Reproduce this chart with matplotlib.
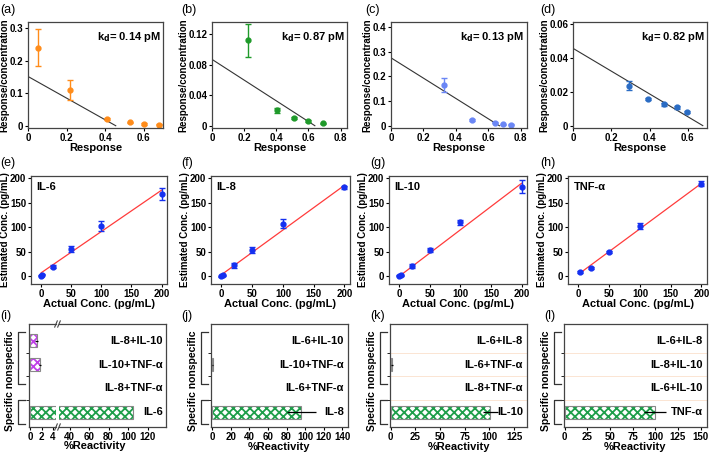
import numpy as np
import matplotlib.pyplot as plt
from matplotlib.ticker import FuncFormatter

plt.rcParams['font.family'] = ['Liberation Sans', 'DejaVu Sans']
plt.rcParams['font.weight'] = 'bold'
plt.rcParams['axes.labelweight'] = 'bold'
plt.rcParams['hatch.linewidth'] = 1.3
plt.rcParams['axes.linewidth'] = 0.9
plt.rcParams['axes.edgecolor'] = '#444444'

# ---------- row 1: Scatchard plots ----------
resp_a = [0.05, 0.22, 0.41, 0.53, 0.60, 0.68]
ratio_a = [0.240, 0.110, 0.020, 0.010, 0.005, 0.003]
err_a = [0.057, 0.030, 0.003, 0.003, 0.002, 0.002]
fit_a = (0.152, 0.455)   # y-intercept, x-intercept

resp_b = [0.225, 0.405, 0.51, 0.60, 0.69]
ratio_b = [0.112, 0.020, 0.010, 0.006, 0.003]
err_b = [0.022, 0.003, 0.001, 0.001, 0.001]
fit_b = (0.087, 0.64)

resp_c = [0.326, 0.50, 0.64, 0.69, 0.74]
ratio_c = [0.165, 0.025, 0.012, 0.007, 0.004]
err_c = [0.028, 0.004, 0.002, 0.002, 0.002]
fit_c = (0.275, 0.67)

resp_d = [0.292, 0.39, 0.475, 0.543, 0.597]
ratio_d = [0.0235, 0.0157, 0.0125, 0.0108, 0.0080]
err_d = [0.0025, 0.0008, 0.0008, 0.0008, 0.0008]
fit_d = (0.0455, 0.678)

kd_labels = ['0.14', '0.87', '0.13', '0.82']

# ---------- row 2: recovery ----------
actual = [0, 2, 20, 50, 100, 200]
est_il6 = [1, 3, 19, 56, 103, 168]
err_il6 = [1, 1, 3, 6, 10, 13]
fit_il6 = (7, 0.845)   # intercept, slope

est_il8 = [0, 2, 22, 53, 107, 182]
err_il8 = [1, 1, 5, 6, 9, 3]
fit_il8 = (3, 0.915)

est_il10 = [0.5, 2, 20, 53, 110, 183]
err_il10 = [1, 1, 4, 4, 5, 13]
fit_il10 = (0, 0.95)

actual_tnf = [2, 20, 50, 100, 200]
est_tnf = [8, 17, 50, 102, 189]
err_tnf = [2, 2, 2, 6, 5]
fit_tnf = (4, 0.93)

# ---------- row 3: cross reactivity ----------
cats_i = ['IL-6', 'IL-8+TNF-α', 'IL-10+TNF-α', 'IL-8+IL-10']
react_i = [105, 0, 1.75, 1.1]
rerr_i = [0, 0, 0.2, 0.3]

cats_j = ['IL-8', 'IL-6+TNF-α', 'IL-10+TNF-α', 'IL-6+IL-10']
react_j = [96, 0, 0.4, 0]
rerr_j = [15.5, 0, 0.5, 0]

cats_k = ['IL-10', 'IL-8+TNF-α', 'IL-6+TNF-α', 'IL-6+IL-8']
react_k = [101, 0, 1.5, 0]
rerr_k = [8, 0, 1.0, 0]

cats_l = ['TNF-α', 'IL-6+IL-10', 'IL-8+IL-10', 'IL-6+IL-8']
react_l = [100, 0, 0, 0]
rerr_l = [12, 0, 0, 0]

W, H = 709, 453
fig = plt.figure(figsize=(W / 100, H / 100), dpi=100)


def box(l, t, r, b):
    return fig.add_axes([l / W, 1 - b / H, (r - l) / W, (b - t) / H])


fmt = FuncFormatter(lambda v, p: f'{v:g}')


def style(ax):
    ax.tick_params(labelsize=7, length=2.5, width=0.8, pad=1)
    for lab in ax.get_xticklabels() + ax.get_yticklabels():
        lab.set_fontweight('bold')


# row 1
row1 = [
    (28, 163, resp_a, ratio_a, err_a, fit_a, '#ff8c1a', (0, 0.7), (-0.007, 0.32), [0, 0.1, 0.2, 0.3], [0, 0.2, 0.4, 0.6]),
    (212, 347, resp_b, ratio_b, err_b, fit_b, '#1f9a2a', (0, 0.84), (-0.003, 0.136), [0, 0.04, 0.08, 0.12], [0, 0.2, 0.4, 0.6, 0.8]),
    (391, 527, resp_c, ratio_c, err_c, fit_c, '#6a86f5', (0, 0.84), (-0.009, 0.42), [0, 0.1, 0.2, 0.3, 0.4], [0, 0.2, 0.4, 0.6, 0.8]),
    (573, 707, resp_d, ratio_d, err_d, fit_d, '#2a6cc4', (0, 0.7), (-0.0014, 0.061), [0, 0.02, 0.04, 0.06], [0, 0.2, 0.4, 0.6]),
]
for k, (l, r, xs, ys, es, fit, col, xl, yl, yt, xt) in enumerate(row1):
    ax = box(l, 22, r, 128)
    ax.plot([0, fit[1]], [fit[0], 0], color='#333333', lw=0.8)
    ax.errorbar(xs, ys, yerr=es, fmt='o', color=col, ms=3.5, capsize=2.5, elinewidth=1, capthick=1)
    ax.set_xlim(*xl)
    ax.set_ylim(*yl)
    ax.set_xticks(xt)
    ax.set_yticks(yt)
    ax.xaxis.set_major_formatter(fmt)
    ax.yaxis.set_major_formatter(fmt)
    style(ax)
    ax.set_xlabel('Response', fontsize=8, labelpad=0)
    ax.set_ylabel('Response/concentration', fontsize=7, labelpad=0)
    ax.text(0.98, 0.86, r'k$_\mathbf{d}$= ' + kd_labels[k] + ' pM', transform=ax.transAxes,
            ha='right', va='center', fontsize=8, fontweight='bold')

# row 2
row2 = [
    (31, 167, actual, est_il6, err_il6, fit_il6, 'IL-6'),
    (211, 350, actual, est_il8, err_il8, fit_il8, 'IL-8'),
    (389, 527, actual, est_il10, err_il10, fit_il10, 'IL-10'),
    (568, 707, actual_tnf, est_tnf, err_tnf, fit_tnf, 'TNF-α'),
]
for l, r, xs, ys, es, fit, name in row2:
    ax = box(l, 176, r, 284)
    x0 = min(xs)
    ax.plot([x0, 200], [fit[0] + fit[1] * x0, fit[0] + fit[1] * 200], color='#ff3b3b', lw=0.9)
    ax.errorbar(xs, ys, yerr=es, fmt='o', color='#1530f0', ms=3.5, capsize=2.5, elinewidth=1, capthick=1)
    ax.set_xlim(-17, 209)
    ax.set_ylim(-16, 205)
    ax.set_xticks([0, 50, 100, 150, 200])
    ax.set_yticks([0, 50, 100, 150, 200])
    style(ax)
    ax.set_xlabel('Actual Conc. (pg/mL)', fontsize=8, labelpad=0)
    ax.set_ylabel('Estimated Conc. (pg/mL)', fontsize=7, labelpad=0)
    ax.text(0.04, 0.9, name, transform=ax.transAxes, ha='left', va='center', fontsize=8, fontweight='bold')

# row 3
green = '#1e9e4a'
purple = '#c040e8'
bh = 0.55
ylims = (-0.62, 3.7)
top3, bot3 = 324, 427


def bars(ax, vals, errs, show_err=True):
    y = np.arange(len(vals))
    cols = [green] + [purple] * (len(vals) - 1)
    for yi, v, c in zip(y, vals, cols):
        if v <= 0:
            continue
        ax.barh(yi, v, height=bh, color='white', edgecolor=c, hatch='xxxx', lw=0, zorder=2)
        ax.barh(yi, v, height=bh, fill=False, edgecolor='#888888', lw=0.8, zorder=3)
    if show_err:
        for yi, v, e in zip(y, vals, errs):
            if e > 0:
                ax.errorbar(v, yi, xerr=e, fmt='none', ecolor='black', elinewidth=0.9, capsize=0, zorder=4)
    ax.set_ylim(*ylims)
    ax.set_yticks([])
    ax.set_yticks([0.5, 1.5, 2.5], minor=True)
    ax.tick_params(axis='y', which='minor', length=2, width=0.6)


def brackets(ax, width_px, gap=0):
    tr = ax.get_yaxis_transform()
    xa = (-10 - gap) / width_px
    xb = (-3 - gap) / width_px
    for y0, y1 in [(1.2, 3.35), (-0.5, 0.5)]:
        ax.plot([xb, xa, xa, xb], [y1, y1, y0, y0], color='#333333', lw=0.9, transform=tr, clip_on=False)
    ax.set_ylabel('Specific nonspecific', fontsize=7.5)
    ax.yaxis.set_label_coords((-13 - gap) / width_px, 0.45)


def cat_labels(ax, cats):
    for yi, c in enumerate(cats):
        ax.text(0.97, yi, c, transform=ax.get_yaxis_transform(), ha='right', va='center',
                fontsize=8, fontweight='bold', zorder=5)


# (i) with a broken axis
axL = box(29, top3, 56, bot3)
axR = box(59, top3, 166, bot3)
bars(axL, react_i, rerr_i)
bars(axR, react_i, rerr_i, show_err=False)
axL.set_xlim(-0.25, 4.6)
axR.set_xlim(29, 139)
axL.set_xticks([0, 2, 4])
axR.set_xticks([40, 60, 80, 100, 120])
axL.spines['right'].set_visible(False)
axR.spines['left'].set_visible(False)
axR.tick_params(axis='y', which='both', left=False)
style(axL)
style(axR)
brackets(axL, 27, gap=1)
cat_labels(axR, cats_i)
fig.text(95 / W, 1 - 446 / H, '%Reactivity', ha='center', va='center', fontsize=8, fontweight='bold')
for yy in (0, 1):
    for dx in (-3, 0):
        axR.plot([dx / 107 - 0.012, dx / 107 + 0.012], [yy - 0.03, yy + 0.03], color='#444444', lw=0.8,
                 transform=axR.transAxes, clip_on=False)

row3 = [
    (211, 348, react_j, rerr_j, cats_j, (-1.3, 146), [0, 20, 40, 60, 80, 100, 120, 140], False),
    (390, 527, react_k, rerr_k, cats_k, (-0.7, 138), [0, 25, 50, 75, 100, 125], True),
    (564, 707, react_l, rerr_l, cats_l, (-0.7, 157), [0, 25, 50, 75, 100, 125, 150], True),
]
for l, r, vals, errs, cats, xl, xt, grid in row3:
    ax = box(l, top3, r, bot3)
    bars(ax, vals, errs)
    if grid:
        for g in (0.5, 1.5, 2.5):
            ax.axhline(g, color='#fbe0cc', lw=0.6, zorder=1)
    ax.set_xlim(*xl)
    ax.set_xticks(xt)
    style(ax)
    brackets(ax, r - l)
    cat_labels(ax, cats)
    ax.set_xlabel('%Reactivity', fontsize=8, labelpad=0)

# panel letters
letters = [('(a)', 0, 10), ('(b)', 181, 10), ('(c)', 365, 10), ('(d)', 540, 10),
           ('(e)', 0, 163), ('(f)', 181, 163), ('(g)', 370, 163), ('(h)', 540, 163),
           ('(i)', 0, 316), ('(j)', 181, 316), ('(k)', 370, 316), ('(l)', 544, 316)]
for s, x, y in letters:
    fig.text(x / W, 1 - y / H, s, ha='left', va='center', fontsize=9, fontweight='normal')

fig.savefig('out.png', dpi=100)
